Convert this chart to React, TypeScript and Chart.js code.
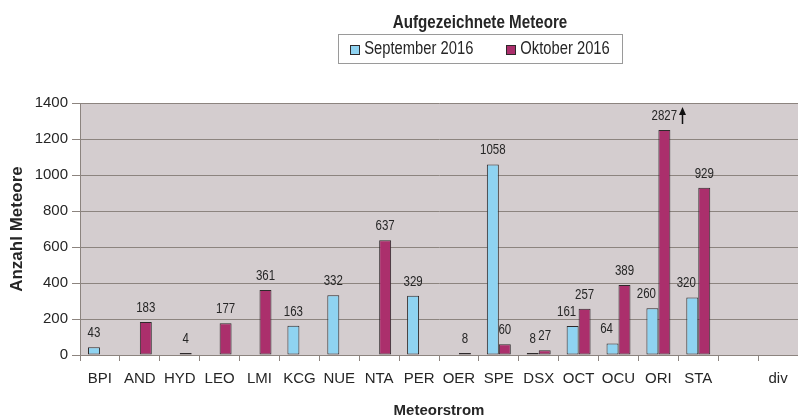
import React, { useEffect, useRef } from "react";
import { Chart, registerables } from "chart.js";

Chart.register(...registerables);

// ---- data ----
const categories = ["BPI", "AND", "HYD", "LEO", "LMI", "KCG", "NUE", "NTA", "PER", "OER", "SPE", "DSX", "OCT", "OCU", "ORI", "STA", "", "div"];
const september: (number | null)[] = [43, null, null, null, null, 163, 332, null, 329, null, 1058, 8, 161, 64, 260, 320, null, null];
const oktober: (number | null)[] = [null, 183, 4, 177, 361, null, null, 637, null, 8, 60, 27, 257, 389, 2827, 929, null, null];
const seriesNames = ["September 2016", "Oktober 2016"];
const Y_MIN = 0;
const Y_MAX = 1400;
const Y_STEP = 200;
// values beyond the axis maximum are drawn as a broken bar ending at this value
const BREAK_VALUE = 1250;

const chartTitle = "Aufgezeichnete Meteore";
const yTitle = "Anzahl Meteore";
const xTitle = "Meteorstrom";

// ---- styles ----
const FONT = "'Liberation Sans', Arial, sans-serif";
const SQUEEZE = 0.82; // horizontal squeeze used for the free text (narrow look)
const BLUE = "#8fd3f1";
const MAGENTA = "#ab2f6c";
const BAR_BORDER = "#2e2a2b";
const PLOT_BG = "#d4cdcf";
const GRID = "#8c847f";
const TEXT = "#262626";
const LABEL_GAP = 14;

const drawn = (arr: (number | null)[]) => arr.map((v) => (v != null && v > Y_MAX ? BREAK_VALUE : v));
const rawSeries = [september, oktober];

function narrowText(ctx: CanvasRenderingContext2D, text: string, x: number, y: number, align: CanvasTextAlign) {
  ctx.save();
  ctx.translate(x, y);
  ctx.scale(SQUEEZE, 1);
  ctx.textAlign = align;
  ctx.fillText(text, 0, 0);
  ctx.restore();
}

export default function App() {
  const ref = useRef<HTMLCanvasElement | null>(null);

  useEffect(() => {
    if (!ref.current) return;

    const bgPlugin = {
      id: "plotBg",
      beforeDraw(chart: any) {
        const { ctx, chartArea: a } = chart;
        ctx.save();
        ctx.fillStyle = PLOT_BG;
        ctx.fillRect(a.left, a.top, a.right - a.left, a.bottom - a.top);
        ctx.restore();
      },
    };

    const labelPlugin = {
      id: "valueLabels",
      afterDatasetsDraw(chart: any) {
        const { ctx } = chart;
        ctx.save();
        ctx.font = `14px ${FONT}`;
        ctx.fillStyle = TEXT;
        ctx.textBaseline = "middle";
        const metas = [chart.getDatasetMeta(0), chart.getDatasetMeta(1)];
        rawSeries.forEach((series, i) => {
          const meta = metas[i];
          meta.data.forEach((bar: any, j: number) => {
            const raw = series[j];
            if (raw == null) return;
            let tx = bar.x;
            const ty = bar.y - LABEL_GAP;
            // nudge the left label away when the neighbouring bar would touch it
            if (i === 0 && oktober[j] != null) {
              const other = metas[1].data[j];
              if (other && other.y < ty + 7) tx -= 6;
            }
            narrowText(ctx, String(raw), tx, ty, "center");
            if (raw > Y_MAX) {
              const w = ctx.measureText(String(raw)).width * SQUEEZE;
              const ax = Math.round(tx + w / 2 + 5) + 0.5;
              ctx.strokeStyle = "#111";
              ctx.fillStyle = "#111";
              ctx.lineWidth = 1.5;
              ctx.beginPath();
              ctx.moveTo(ax, ty + 8);
              ctx.lineTo(ax, ty - 3);
              ctx.stroke();
              ctx.beginPath();
              ctx.moveTo(ax, ty - 9);
              ctx.lineTo(ax - 3.5, ty - 1);
              ctx.lineTo(ax + 3.5, ty - 1);
              ctx.closePath();
              ctx.fill();
              ctx.fillStyle = TEXT;
            }
          });
        });
        ctx.restore();
      },
    };

    const headerPlugin = {
      id: "header",
      afterDraw(chart: any) {
        const { ctx } = chart;
        const cx = 480;
        ctx.save();
        ctx.fillStyle = TEXT;
        ctx.textBaseline = "middle";
        ctx.font = `bold 18.5px ${FONT}`;
        narrowText(ctx, chartTitle, cx, 23, "center");

        ctx.font = `18px ${FONT}`;
        const sq = 9;
        const gapSq = 5;
        const gapItem = 33;
        const widths = seriesNames.map((n) => ctx.measureText(n).width * SQUEEZE);
        const total = widths.reduce((s, w) => s + sq + gapSq + w, 0) + gapItem;
        const boxTop = 34;
        const boxH = 29;
        const padX = 12;
        const left = cx - total / 2;
        ctx.fillStyle = "#ffffff";
        ctx.fillRect(left - padX, boxTop, total + 2 * padX, boxH);
        ctx.strokeStyle = "#9a9a9a";
        ctx.lineWidth = 1;
        ctx.strokeRect(Math.round(left - padX) + 0.5, boxTop + 0.5, Math.round(total + 2 * padX), boxH);
        let x = left;
        const cy = boxTop + boxH / 2 + 0.5;
        [BLUE, MAGENTA].forEach((c, i) => {
          ctx.fillStyle = c;
          ctx.fillRect(Math.round(x) + 0.5, Math.round(cy - sq / 2) + 0.5, sq, sq);
          ctx.strokeStyle = BAR_BORDER;
          ctx.strokeRect(Math.round(x) + 0.5, Math.round(cy - sq / 2) + 0.5, sq, sq);
          ctx.fillStyle = TEXT;
          narrowText(ctx, seriesNames[i], x + sq + gapSq, cy, "left");
          x += sq + gapSq + widths[i] + gapItem;
        });
        ctx.restore();
      },
    };

    const barStyle = {
      borderColor: BAR_BORDER,
      borderWidth: 1,
      borderSkipped: false,
      minBarLength: 2,
      categoryPercentage: 0.6,
      barPercentage: 1.0,
    };

    const chart = new Chart(ref.current, {
      type: "bar",
      data: {
        labels: categories,
        datasets: [
          { label: seriesNames[0], data: drawn(september), backgroundColor: BLUE, ...barStyle },
          { label: seriesNames[1], data: drawn(oktober), backgroundColor: MAGENTA, ...barStyle },
        ],
      },
      options: {
        responsive: false,
        animation: false,
        layout: { padding: { top: 103, right: 0, left: 0, bottom: 0 } },
        plugins: {
          legend: { display: false },
          title: { display: false },
          tooltip: { enabled: false },
        },
        scales: {
          x: {
            offset: true,
            grid: {
              offset: true,
              drawOnChartArea: false,
              color: GRID,
              tickLength: 6,
            },
            border: { color: GRID, width: 1 },
            ticks: {
              color: TEXT,
              font: { family: FONT, size: 15 },
              padding: 9,
              maxRotation: 0,
              autoSkip: false,
            },
            title: {
              display: true,
              text: xTitle,
              color: TEXT,
              font: { family: FONT, size: 15, weight: "bold", lineHeight: 0.8 },
              padding: 0,
            },
            afterFit(scale: any) {
              scale.height = 62;
            },
          },
          y: {
            min: Y_MIN,
            max: Y_MAX,
            grid: { color: GRID, tickLength: 8 },
            border: { color: GRID, width: 1 },
            ticks: {
              stepSize: Y_STEP,
              color: TEXT,
              font: { family: FONT, size: 15 },
              padding: 4,
              callback: (v: any) => String(v),
            },
            title: {
              display: true,
              text: yTitle,
              color: TEXT,
              font: { family: FONT, size: 17, weight: "bold" },
              padding: { top: 7, bottom: 0 },
            },
            afterFit(scale: any) {
              scale.width = 80;
            },
          },
        },
      },
      plugins: [bgPlugin, labelPlugin, headerPlugin],
    });

    return () => chart.destroy();
  }, []);

  return (
    <div style={{ position: "fixed", left: 0, top: 0, width: 798, height: 417, overflow: "hidden", background: "#fff" }}>
      <canvas ref={ref} width={798} height={417} style={{ display: "block" }} />
    </div>
  );
}
